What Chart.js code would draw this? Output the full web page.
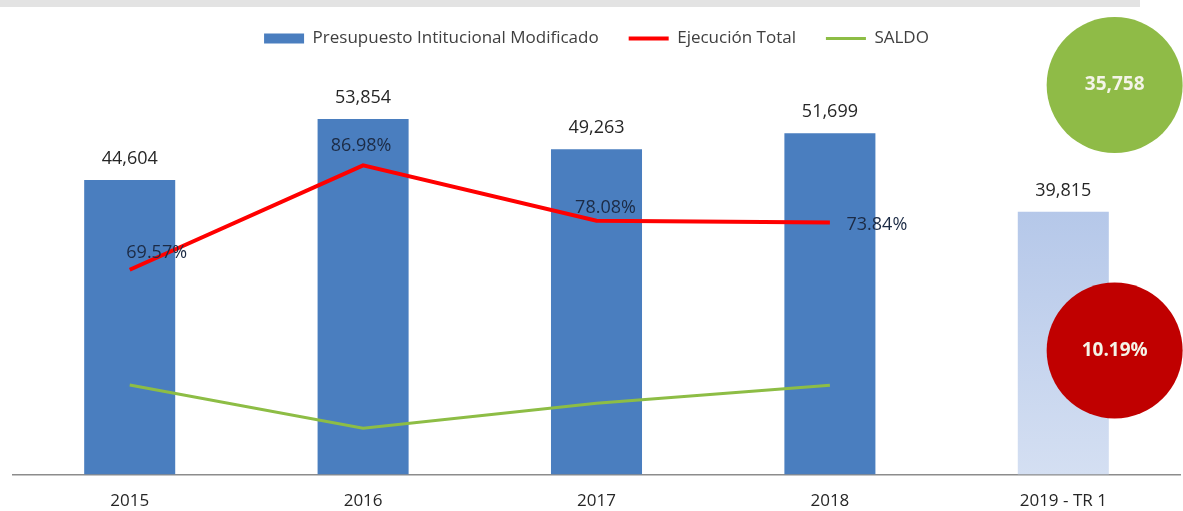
<!DOCTYPE html>
<html lang="es">
<head>
<meta charset="utf-8">
<title>Presupuesto y ejecución</title>
<script src="https://cdn.jsdelivr.net/npm/chart.js@4.4.1/dist/chart.umd.min.js"></script>
<style>
  html, body { margin: 0; padding: 0; background: #fff; }
  #wrap { position: relative; width: 1183px; height: 511px; }
  #band { position: absolute; left: 0; top: 0; width: 1140px; height: 7px; background: #e3e3e3; }
  canvas { position: absolute; left: 0; top: 0; }
</style>
</head>
<body>
<div id="wrap">
  <canvas id="chart" width="1183" height="511"></canvas>
  <div id="band"></div>
</div>
<script>
const years = ['2015', '2016', '2017', '2018', '2019 - TR 1'];
const presupuesto = [44604, 53854, 49263, 51699, 39815];
const ejecucion = [31031, 46842, 38465, 38174, null];
const saldo = [13573, 7012, 10798, 13525, null];
const ejecucionPct = ['69.57%', '86.98%', '78.08%', '73.84%', null];

// 2019 - TR 1 summary circles (value shown, and height on the value axis)
const circleTexts = ['35,758', '10.19%'];
const circleValues = [59000, 18800];

const FONT = '"Open Sans", "Noto Sans", sans-serif';

// Offsets of the percentage labels from their points
const pctOffsets = [[27, -17], [-2, -19], [9, -13], [47, 2]];

// Draw value labels
const labelPlugin = {
    id: 'valueLabels',
    afterDatasetsDraw(chart) {
        const ctx = chart.ctx;
        ctx.save();
        ctx.textAlign = 'center';
        ctx.textBaseline = 'middle';

        // bar values
        ctx.font = '18px ' + FONT;
        ctx.fillStyle = '#262626';
        chart.getDatasetMeta(0).data.forEach((bar, i) => {
            ctx.fillText(presupuesto[i].toLocaleString('en-US'), bar.x, bar.y - 21);
        });

        // execution percentages
        ctx.fillStyle = '#1c2b45';
        chart.getDatasetMeta(1).data.forEach((pt, i) => {
            if (!ejecucionPct[i]) return;
            ctx.fillText(ejecucionPct[i], pt.x + pctOffsets[i][0], pt.y + pctOffsets[i][1]);
        });

        // circle texts
        ctx.font = 'bold 19px ' + FONT;
        ctx.fillStyle = '#f4f4e8';
        [3, 4].forEach((dsIndex, k) => {
            const el = chart.getDatasetMeta(dsIndex).data[0];
            ctx.fillText(circleTexts[k], el.x, el.y);
        });
        ctx.restore();
    }
};

function barColor(context) {
    if (context.dataIndex !== 4) return '#4a7ebf';
    const area = context.chart.chartArea;
    if (!area) return '#b8cbea';
    const g = context.chart.ctx.createLinearGradient(0, area.top, 0, area.bottom);
    g.addColorStop(0, '#a3bae4');
    g.addColorStop(1, '#d4dff2');
    return g;
}

new Chart(document.getElementById('chart'), {
    type: 'bar',
    data: {
        labels: years,
        datasets: [
            {
                label: 'Presupuesto Intitucional Modificado',
                data: presupuesto,
                backgroundColor: barColor,
                barPercentage: 0.39,
                categoryPercentage: 1,
                grouped: false,
                pointStyle: 'rect',
                order: 3
            },
            {
                type: 'line',
                label: 'Ejecución Total',
                data: ejecucion,
                borderColor: '#ff0000',
                backgroundColor: '#ff0000',
                borderWidth: 4,
                pointRadius: 0,
                pointStyle: 'line',
                tension: 0,
                order: 1
            },
            {
                type: 'line',
                label: 'SALDO',
                data: saldo,
                borderColor: '#8dbd45',
                backgroundColor: '#8dbd45',
                borderWidth: 3,
                pointRadius: 0,
                pointStyle: 'line',
                tension: 0,
                order: 2
            },
            {
                type: 'bubble',
                label: 'saldo2019',
                xAxisID: 'xb',
                data: [{ x: 4.22, y: circleValues[0], r: 68 }],
                backgroundColor: '#8fbb47',
                borderWidth: 0,
                clip: false,
                order: 0
            },
            {
                type: 'bubble',
                label: 'ejecucion2019',
                xAxisID: 'xb',
                data: [{ x: 4.22, y: circleValues[1], r: 68 }],
                backgroundColor: '#c00000',
                borderWidth: 0,
                clip: false,
                order: 0
            }
        ]
    },
    options: {
        responsive: false,
        animation: false,
        layout: { autoPadding: false, padding: { top: 0, left: 13, right: 3, bottom: -16 } },
        plugins: {
            tooltip: { enabled: false },
            legend: {
                position: 'top',
                labels: {
                    usePointStyle: true,
                    pointStyleWidth: 40,
                    boxHeight: 10,
                    padding: 30,
                    color: '#404040',
                    font: { size: 17, family: FONT },
                    filter: item => item.datasetIndex < 3,
                    sort: (a, b) => a.datasetIndex - b.datasetIndex
                }
            }
        },
        scales: {
            x: {
                grid: { display: false, drawTicks: false },
                border: { display: true, color: '#8c8c8c', width: 1.5 },
                ticks: { color: '#262626', font: { size: 17, family: FONT }, padding: 16 }
            },
            xb: { type: 'linear', display: false, offset: false, min: -0.5, max: 4.5 },
            y: { display: false, min: 0, max: 63250 }
        }
    },
    plugins: [labelPlugin]
});
</script>
</body>
</html>
